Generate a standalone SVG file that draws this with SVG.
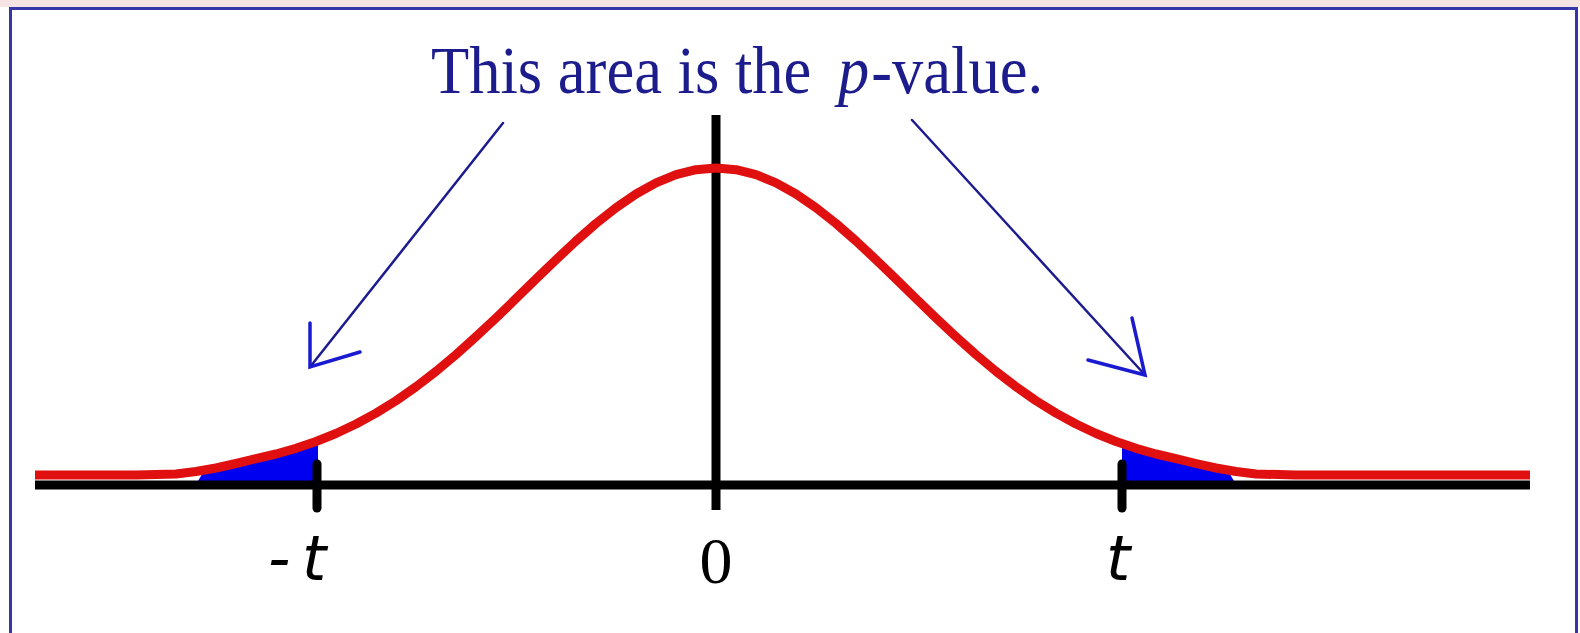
<svg xmlns="http://www.w3.org/2000/svg" width="1580" height="633" viewBox="0 0 1580 633">
<style>
.frame{fill:none;stroke:#3636a8;stroke-width:3}
.axis{fill:none;stroke:#000;stroke-width:9;stroke-linecap:butt}
.tick{fill:none;stroke:#000;stroke-width:9;stroke-linecap:round}
.curve{fill:none;stroke:#e01010;stroke-width:9;stroke-linejoin:round;stroke-linecap:butt}
.tail{fill:#0000f0;stroke:none}
.arrow{fill:none;stroke:#1c1c90;stroke-width:2.5;stroke-linecap:round}
.head{fill:none;stroke:#1a1ad0;stroke-width:3.5;stroke-linecap:round}
.title{font-family:"Liberation Serif","Times New Roman",serif;font-size:68px;fill:#1c1c8c}
.lab{font-family:"DejaVu Sans",sans-serif;font-style:italic;font-size:62px;fill:#000}
.zero{font-family:"Liberation Serif","Times New Roman",serif;font-size:66px;fill:#000}
</style>
<rect x="0" y="0" width="1580" height="7" fill="#f6e4e4"/>
<rect x="0" y="7" width="1580" height="626" fill="#fff"/>
<path class="frame" d="M10.5,640 V8.5 H1576.5 V640"/>
<g id="tails">
<path class="tail" d="M318,481 V441 L316,441.5 L296,448.3 L276,454 L256,458.6 L236,463.5 L216,468 L204,471 L198,481 Z"/>
<path class="tail" d="M1122,481 V443.5 L1136,448.3 L1156,454 L1176,458.6 L1196,463.5 L1216,468 L1228,471 L1234,481 Z"/>
</g>
<g id="axes">
<line class="axis" x1="35" y1="485" x2="1530" y2="485"/>
<line class="axis" x1="716" y1="115" x2="716" y2="510"/>
<line class="tick" x1="317" y1="464" x2="317" y2="508"/>
<line class="tick" x1="1122" y1="464" x2="1122" y2="508"/>
</g>
<g id="curve">
<path class="curve" d="M35,475 L136,475 L176,474 L196,471.5 L216,468 L236,463.5 L256,458.6 L276,454 L296,448.3 L316,441.5 L336,433.5 L356,424 L376,413.1 L396,400.7 L416,386.7 L436,371.4 L456,354.6 L476,336.7 L496,318 L516,298.6 L536,279 L556,259.7 L576,241 L596,223.5 L616,207.7 L636,194 L656,182.9 L676,174.7 L696,169.7 L716,168 L736,169.7 L756,174.7 L776,182.9 L796,194 L816,207.7 L836,223.5 L856,241 L876,259.7 L896,279 L916,298.6 L936,318 L956,336.7 L976,354.6 L996,371.4 L1016,386.7 L1036,400.7 L1056,413.1 L1076,424 L1096,433.5 L1116,441.5 L1136,448.3 L1156,454 L1176,458.6 L1196,463.5 L1216,468 L1236,471.5 L1256,474 L1296,475 L1530,475"/>
</g>
<g id="connectors">
<line class="arrow" x1="503" y1="123" x2="310" y2="367"/>
<polyline class="head" points="310,323 310,367 360,352"/>
<line class="arrow" x1="912" y1="120" x2="1145" y2="375"/>
<polyline class="head" points="1132,318 1145,375 1088,360"/>
</g>
<g id="title">
<text class="title" transform="translate(431,93) scale(0.92,1)" x="0" y="0">This area is the <tspan font-style="italic" dx="12">p</tspan><tspan dx="2">-value.</tspan></text>
</g>
<g id="labels">
<text class="lab" x="268" y="580">-</text>
<text class="lab" x="302" y="580">t</text>
<text class="zero" x="716" y="583" text-anchor="middle">0</text>
<text class="lab" x="1106" y="580">t</text>
</g>
</svg>
